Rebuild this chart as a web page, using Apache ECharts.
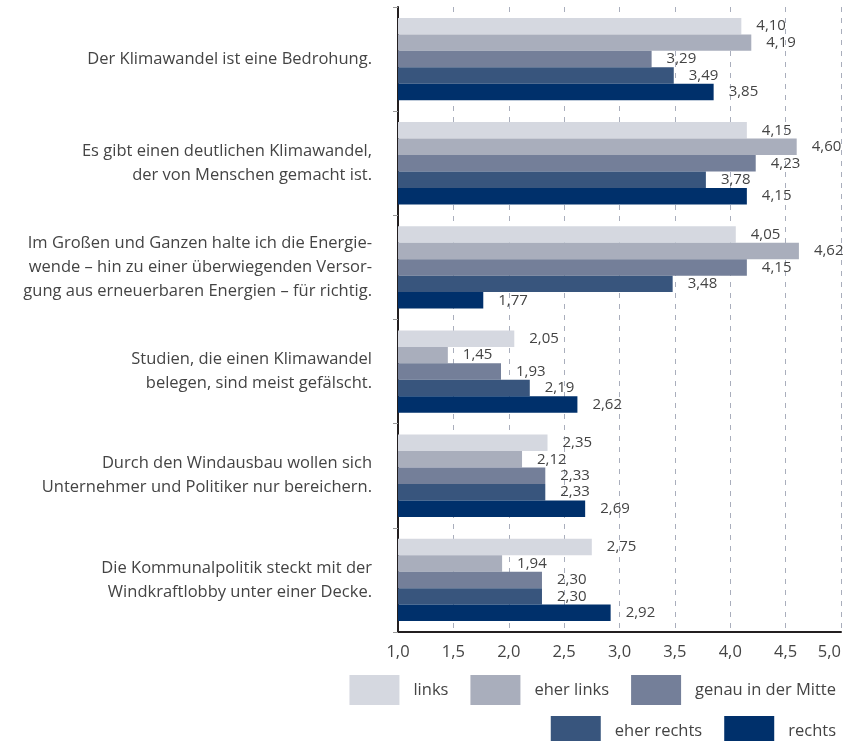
<!DOCTYPE html>
<html>
<head>
<meta charset="utf-8">
<script src="https://cdn.jsdelivr.net/npm/echarts@6/dist/echarts.min.js"></script>
<style>
  html, body { margin: 0; padding: 0; background: #fff; }
  #chart { width: 846px; height: 741px; }
</style>
</head>
<body>
<div id="chart"></div>
<script>
// Aussagen (von oben nach unten)
const categories = [
  'Der Klimawandel ist eine Bedrohung.',
  'Es gibt einen deutlichen Klimawandel,\nder von Menschen gemacht ist.',
  'Im Großen und Ganzen halte ich die Energie-\nwende – hin zu einer überwiegenden Versor-\ngung aus erneuerbaren Energien – für richtig.',
  'Studien, die einen Klimawandel\nbelegen, sind meist gefälscht.',
  'Durch den Windausbau wollen sich\nUnternehmer und Politiker nur bereichern.',
  'Die Kommunalpolitik steckt mit der\nWindkraftlobby unter einer Decke.'
]

const seriesNames = ['links', 'eher links', 'genau in der Mitte', 'eher rechts', 'rechts']
const colors = ['#d5d8e0', '#a9aebc', '#747f99', '#38557d', '#00306b']

// Mittelwerte je politischer Selbsteinordnung
const links = [4.10, 4.15, 4.05, 2.05, 2.35, 2.75]
const eherLinks = [4.19, 4.60, 4.62, 1.45, 2.12, 1.94]
const mitte = [3.29, 4.23, 4.15, 1.93, 2.33, 2.30]
const eherRechts = [3.49, 3.78, 3.48, 2.19, 2.33, 2.30]
const rechts = [3.85, 4.15, 1.77, 2.62, 2.69, 2.92]

const values = [links, eherLinks, mitte, eherRechts, rechts]

const fmt = v => v.toFixed(2).replace('.', ',')

const chart = echarts.init(document.getElementById('chart'))

const legendBase = {
  right: 5,
  itemWidth: 50,
  itemHeight: 30,
  itemGap: 22,
  icon: 'rect',
  textStyle: { fontSize: 16.5, color: '#444', padding: [0, 0, 0, 9] }
}

const option = {
  animation: false,
  textStyle: { fontFamily: 'Open Sans' },
  grid: { left: 398, right: 5, top: 7, bottom: 109, containLabel: false, outerBoundsMode: 'none' },
  legend: [
    Object.assign({}, legendBase, { data: seriesNames.slice(0, 3), top: 670 }),
    Object.assign({}, legendBase, { data: seriesNames.slice(3), top: 711 })
  ],
  xAxis: {
    type: 'value',
    min: 1,
    max: 5,
    interval: 0.5,
    axisLine: { show: true, lineStyle: { color: '#231f20', width: 2 } },
    axisTick: { show: false },
    axisLabel: {
      fontSize: 16.5,
      color: '#444',
      margin: 12,
      alignMaxLabel: 'right',
      formatter: v => v.toFixed(1).replace('.', ',')
    },
    splitLine: {
      show: true,
      lineStyle: { color: '#a9aebc', type: [5, 6], width: 1 }
    }
  },
  yAxis: {
    type: 'category',
    inverse: true,
    data: categories,
    axisLine: { show: true, lineStyle: { color: '#231f20', width: 2 } },
    axisTick: { show: true, length: 5, lineStyle: { color: '#999' } },
    axisLabel: {
      fontSize: 16.5,
      color: '#444',
      margin: 26,
      lineHeight: 24,
      align: 'right'
    }
  },
  series: seriesNames.map((name, i) => ({
    name: name,
    type: 'bar',
    data: values[i],
    barGap: '0%',
    barCategoryGap: '21%',
    itemStyle: { color: colors[i] },
    label: {
      show: true,
      position: 'right',
      distance: 15,
      fontSize: 15,
      color: '#444',
      formatter: p => fmt(p.value)
    }
  }))
}

chart.setOption(option)
</script>
</body>
</html>
